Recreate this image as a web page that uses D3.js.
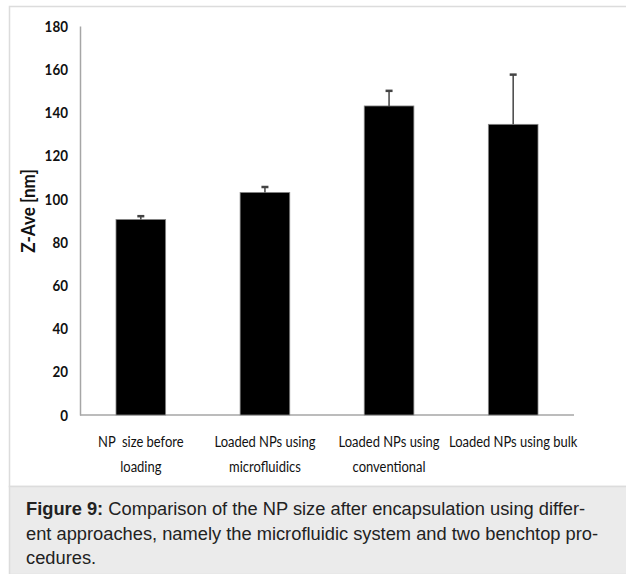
<!DOCTYPE html>
<html>
<head>
<meta charset="utf-8">
<script src="https://cdn.jsdelivr.net/npm/d3@7/dist/d3.min.js"></script>
<style>
  html, body { margin: 0; padding: 0; background: #fff; }
  svg { display: block; }
</style>
</head>
<body>
<svg id="chart" width="626" height="574"></svg>
<script>
// Mean particle size (Z-Ave, nm) for each preparation, with SD error bars
const categories = [
  ["NP  size before", "loading"],
  ["Loaded NPs using", "microfluidics"],
  ["Loaded NPs using", "conventional"],
  ["Loaded NPs using bulk"]
];
const zAve = [90.5, 103, 143, 134.5];
const zErr = [1.5, 2.5, 7, 23];
const yTicks = [0, 20, 40, 60, 80, 100, 120, 140, 160, 180];

const svg = d3.select("#chart");
const W = 626, H = 574;

// panel frame and caption box
svg.append("rect").attr("x", 9.5).attr("y", 6.5).attr("width", W).attr("height", 480)
  .attr("fill", "#fff").attr("stroke", "#dcdcdc").attr("stroke-width", 1.5);
svg.append("rect").attr("x", 9.5).attr("y", 486.5).attr("width", W).attr("height", H - 486)
  .attr("fill", "#ebebeb").attr("stroke", "#dcdcdc").attr("stroke-width", 1.5);

const m = { left: 80, right: 574, top: 26, bottom: 415 };
const x = d3.scaleBand().domain(d3.range(categories.length)).range([m.left, m.right]).paddingInner(0.6).paddingOuter(0.29);
const y = d3.scaleLinear().domain([0, 180]).range([m.bottom, m.top]);

const tickFont = "Lato, 'Open Sans', sans-serif";
const narrow = 0.84; // horizontal squeeze for the condensed label face

// y axis
const yAxis = svg.append("g").attr("transform", `translate(${m.left},0)`)
  .call(d3.axisLeft(y).tickValues(yTicks).tickSize(0).tickPadding(12));
yAxis.select(".domain").attr("stroke", "#a6a6a6").attr("stroke-width", 1.5);
yAxis.selectAll("text")
  .attr("x", -12 / narrow)
  .attr("transform", `scale(${narrow},1)`)
  .attr("font-family", tickFont).attr("font-weight", "bold")
  .attr("font-size", 16).attr("fill", "#111");

// x axis baseline
const xAxis = svg.append("g").attr("transform", `translate(0,${m.bottom})`)
  .call(d3.axisBottom(x).tickSize(0).tickFormat(""));
xAxis.select(".domain").attr("stroke", "#a6a6a6").attr("stroke-width", 1.5)
  .attr("d", `M${m.left},0H${m.right}`);

// category labels (two lines where needed)
const lab = svg.append("g");
categories.forEach((lines, i) => {
  const cx = x(i) + x.bandwidth() / 2;
  const t = lab.append("text")
    .attr("transform", `translate(${cx},447) scale(0.81,1)`)
    .attr("text-anchor", "middle").attr("xml:space", "preserve")
    .attr("font-family", tickFont).attr("font-size", 16).attr("fill", "#111");
  lines.forEach((s, k) => {
    t.append("tspan").attr("x", 0).attr("dy", k === 0 ? 0 : 25).text(s);
  });
});

// y axis title
svg.append("text")
  .attr("transform", `translate(35,211) rotate(-90) scale(0.9,1)`)
  .attr("text-anchor", "middle")
  .attr("font-family", tickFont).attr("font-weight", "bold")
  .attr("font-size", 19).attr("fill", "#111")
  .text("Z-Ave [nm]");

// bars
svg.append("g").selectAll("rect").data(zAve).join("rect")
  .attr("x", (d, i) => x(i)).attr("width", x.bandwidth())
  .attr("y", d => y(d)).attr("height", d => y(0) - y(d))
  .attr("fill", "#000").attr("stroke", "#888").attr("stroke-width", 0.8);

// error bars (upper only)
const eb = svg.append("g").attr("stroke", "#444").attr("stroke-width", 1.5);
zAve.forEach((v, i) => {
  const cx = x(i) + x.bandwidth() / 2;
  eb.append("line").attr("x1", cx).attr("x2", cx).attr("y1", y(v)).attr("y2", y(v + zErr[i]));
  eb.append("line").attr("x1", cx - 3.5).attr("x2", cx + 3.5)
    .attr("y1", y(v + zErr[i])).attr("y2", y(v + zErr[i])).attr("stroke-width", 2.5);
});

// caption
const cap = svg.append("text")
  .attr("font-family", "'Liberation Sans', Arial, Helvetica, sans-serif")
  .attr("font-size", 18.3).attr("fill", "#222");
const capLines = [
  [["Figure 9:", true], [" Comparison of the NP size after encapsulation using differ-", false]],
  [["ent approaches, namely the microfluidic system and two benchtop pro-", false]],
  [["cedures.", false]]
];
capLines.forEach((parts, k) => {
  parts.forEach(([s, b], j) => {
    const ts = cap.append("tspan").text(s).attr("font-weight", b ? "bold" : "normal");
    if (j === 0) ts.attr("x", 26).attr("y", 515 + k * 24.5);
  });
});
</script>
</body>
</html>
